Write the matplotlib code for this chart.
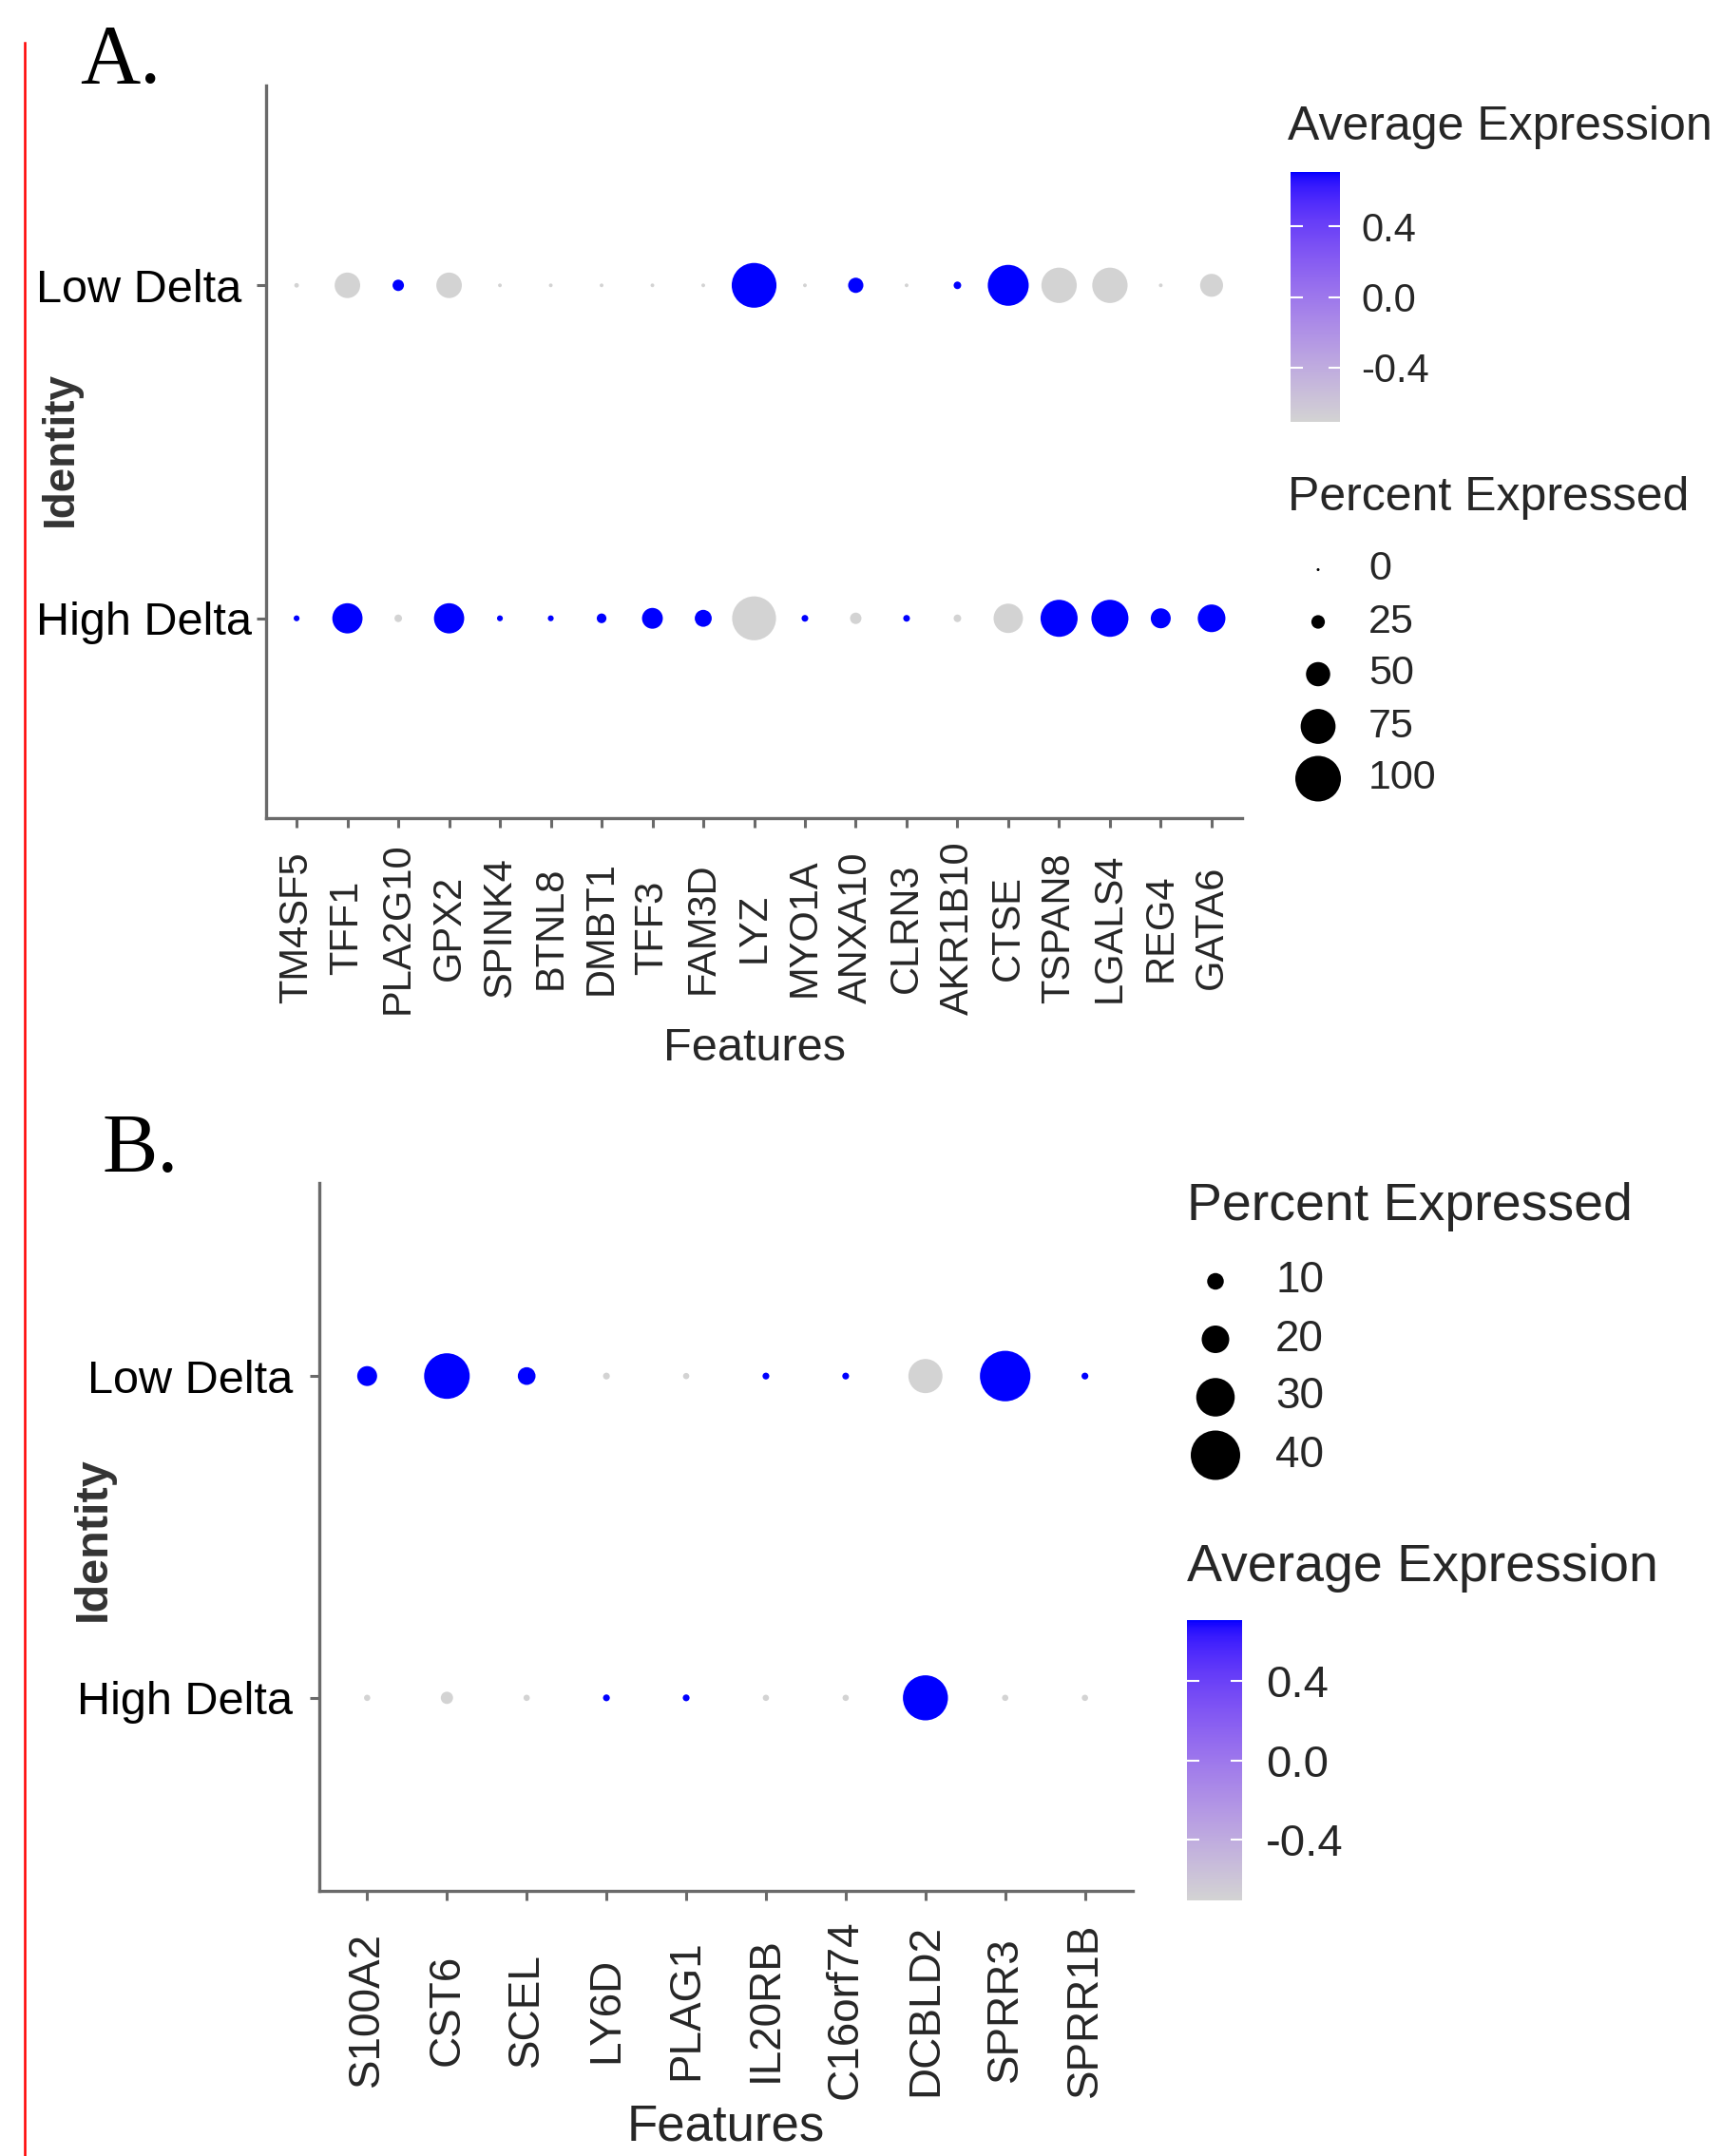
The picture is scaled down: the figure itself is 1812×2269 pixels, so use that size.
import numpy as np
import matplotlib
matplotlib.use("Agg")
import matplotlib.pyplot as plt
from matplotlib.colors import ListedColormap, Normalize
from matplotlib.cm import ScalarMappable
from matplotlib.lines import Line2D

plt.rcParams['font.family'] = ['Liberation Sans', 'DejaVu Sans']

# ---- data ----
identities = ['High Delta', 'Low Delta']   # bottom -> top

genes_a = ['TM4SF5', 'TFF1', 'PLA2G10', 'GPX2', 'SPINK4', 'BTNL8', 'DMBT1', 'TFF3',
           'FAM3D', 'LYZ', 'MYO1A', 'ANXA10', 'CLRN3', 'AKR1B10', 'CTSE', 'TSPAN8',
           'LGALS4', 'REG4', 'GATA6']
pct_low_a = [4, 53, 20, 53, 2, 2, 2, 2, 2, 98, 2, 29, 2, 11, 89, 76, 76, 2, 47]
pct_high_a = [7, 64, 11, 64, 7, 7, 16, 42, 33, 96, 9, 20, 9, 11, 62, 80, 80, 40, 58]
avg_low_a = [-0.71, -0.71, 0.71, -0.71, -0.71, -0.71, -0.71, -0.71, -0.71, 0.71,
             -0.71, 0.71, -0.71, 0.71, 0.71, -0.71, -0.71, -0.71, -0.71]
avg_high_a = [-v for v in avg_low_a]
size_breaks_a = [0, 25, 50, 75, 100]

genes_b = ['S100A2', 'CST6', 'SCEL', 'LY6D', 'PLAG1', 'IL20RB', 'C16orf74', 'DCBLD2',
           'SPRR3', 'SPRR1B']
pct_low_b = [13, 36.5, 11, 1, 0.5, 1, 1, 26, 41, 1]
pct_high_b = [0.5, 6, 0.5, 1, 1, 0.5, 0.5, 36, 0.5, 0.5]
avg_low_b = [0.71, 0.71, 0.71, -0.71, -0.71, 0.71, 0.71, -0.71, 0.71, 0.71]
avg_high_b = [-v for v in avg_low_b]
size_breaks_b = [10, 20, 30, 40]

color_ticks = [-0.4, 0.0, 0.4]

# ---- figure setup ----
W, H, DPI = 1812, 2269, 100
fig = plt.figure(figsize=(W / DPI, H / DPI), dpi=DPI)


def box(x0, y0, x1, y1):
    # pixel box (top-left origin) -> figure fraction rect
    return [x0 / W, 1 - y1 / H, (x1 - x0) / W, (y1 - y0) / H]


# lightgrey -> blue ramp interpolated in CIELAB, like ggplot's gradient
def srgb_to_lab(rgb):
    c = np.asarray(rgb, float)
    lin = np.where(c <= 0.04045, c / 12.92, ((c + 0.055) / 1.055) ** 2.4)
    m = np.array([[0.4124, 0.3576, 0.1805], [0.2126, 0.7152, 0.0722], [0.0193, 0.1192, 0.9505]])
    xyz = m @ lin / np.array([0.95047, 1.0, 1.08883])
    d = 6 / 29
    f = np.where(xyz > d ** 3, np.cbrt(xyz), xyz / (3 * d * d) + 4 / 29)
    return np.array([116 * f[1] - 16, 500 * (f[0] - f[1]), 200 * (f[1] - f[2])])


def lab_to_srgb(lab):
    L, a, b = lab
    fy = (L + 16) / 116
    f = np.array([fy + a / 500, fy, fy - b / 200])
    d = 6 / 29
    xyz = np.where(f > d, f ** 3, 3 * d * d * (f - 4 / 29)) * np.array([0.95047, 1.0, 1.08883])
    minv = np.array([[3.2406, -1.5372, -0.4986], [-0.9689, 1.8758, 0.0415], [0.0557, -0.2040, 1.0570]])
    lin = np.clip(minv @ xyz, 0, 1)
    return np.where(lin <= 0.0031308, 12.92 * lin, 1.055 * lin ** (1 / 2.4) - 0.055)


lab_lo = srgb_to_lab([211 / 255, 211 / 255, 211 / 255])
lab_hi = srgb_to_lab([0, 0, 1.0])
ramp = [np.clip(lab_to_srgb(lab_lo + t * (lab_hi - lab_lo)), 0, 1) for t in np.linspace(0, 1, 256)]
cmap = ListedColormap(ramp)

AXIS_GREY = '#6a6a6a'
TEXT = '#262626'


def size_pts(pct, d0, k):
    # diameter in px grows linearly with percent -> marker area in pt^2
    d_px = d0 + k * np.asarray(pct, float)
    return (d_px * 72 / DPI) ** 2


def dot_panel(rect, genes, pct_low, pct_high, avg_low, avg_high, d0, k,
              xt_size, yt_size, xt_pad):
    ax = fig.add_axes(rect)
    allv = np.concatenate([avg_low, avg_high])
    norm = Normalize(allv.min(), allv.max())
    x = np.arange(1, len(genes) + 1)
    for yi, pct, avg in [(1, pct_high, avg_high), (2, pct_low, avg_low)]:
        ax.scatter(x, np.full(len(x), yi), s=size_pts(pct, d0, k), c=avg,
                   cmap=cmap, norm=norm, linewidths=0, zorder=3)
    ax.set_xlim(0.4, len(genes) + 0.6)
    ax.set_ylim(0.4, 2.6)
    ax.set_xticks(x)
    ax.set_xticklabels(genes, rotation=90, fontsize=xt_size, color=TEXT,
                       va='center', ha='center')
    ax.set_yticks([1, 2])
    ax.set_yticklabels(identities, fontsize=yt_size, color='black')
    for side in ['top', 'right']:
        ax.spines[side].set_visible(False)
    for side in ['left', 'bottom']:
        ax.spines[side].set_color(AXIS_GREY)
        ax.spines[side].set_linewidth(2.4)
    ax.tick_params(axis='both', length=7, width=2.2, color=AXIS_GREY)
    ax.tick_params(axis='x', pad=xt_pad)
    return ax, norm


# ---- panel A ----
axA, normA = dot_panel(box(280, 90, 1307, 861), genes_a, pct_low_a, pct_high_a,
                       avg_low_a, avg_high_a, 3, 0.45, 30, 35, 76)
axA.tick_params(axis='y', pad=167)
for t in axA.get_yticklabels():
    t.set_horizontalalignment('left')
axA.set_xlabel('Features', fontsize=35, color=TEXT, va='center')
axA.xaxis.set_label_coords(0.5, -0.315)
axA.set_ylabel('Identity', fontsize=33, fontweight='bold', color='#333333', va='center')
axA.yaxis.set_label_coords(-0.21, 0.5045)

# ---- panel B ----
axB, normB = dot_panel(box(336, 1245, 1192, 1990), genes_b, pct_low_b, pct_high_b,
                       avg_low_b, avg_high_b, 6, 1.15, 33, 35, 83)
axB.tick_params(axis='y', pad=13)
axB.set_xlabel('Features', fontsize=38, color=TEXT, va='center')
axB.xaxis.set_label_coords(0.5, -0.334)
axB.set_ylabel('Identity', fontsize=35, fontweight='bold', color='#333333', va='center')
axB.yaxis.set_label_coords(-0.278, 0.497)


# ---- legends ----
def colour_legend(rect, norm, title, title_xy, fs_title, fs_lab, lab_pad):
    cax = fig.add_axes(rect)
    cb = fig.colorbar(ScalarMappable(norm=norm, cmap=cmap), cax=cax)
    cb.outline.set_visible(False)
    cb.set_ticks(color_ticks)
    cax.set_yticklabels([f'{v:.1f}' for v in color_ticks], fontsize=fs_lab, color=TEXT)
    cax.tick_params(axis='y', direction='in', left=True, right=True, length=9,
                    width=1.5, color='white', pad=lab_pad)
    fig.text(title_xy[0] / W, 1 - title_xy[1] / H, title, fontsize=fs_title,
             color=TEXT, va='center', ha='left')


def size_legend(rect, breaks, d0, k, title, title_xy, fs_title, fs_lab, dot_x, lab_x):
    lax = fig.add_axes(rect)
    lax.set_axis_off()
    n = len(breaks)
    lax.set_xlim(0, rect[2] * W)
    lax.set_ylim(n - 0.5, -0.5)
    rows = np.arange(n)
    lax.scatter(np.full(n, dot_x), rows, s=size_pts(breaks, d0, k), c='black',
                linewidths=0, clip_on=False)
    for r, b in zip(rows, breaks):
        lax.text(lab_x, r, str(b), fontsize=fs_lab, color=TEXT, va='center', ha='left')
    fig.text(title_xy[0] / W, 1 - title_xy[1] / H, title, fontsize=fs_title,
             color=TEXT, va='center', ha='left')


colour_legend(box(1358, 181, 1410, 444), normA, 'Average Expression', (1355, 134), 36, 30, 16)
size_legend(box(1356, 572, 1700, 847), size_breaks_a, 3, 0.45, 'Percent Expressed',
            (1355, 524), 36, 31, 31, 84)

size_legend(box(1249, 1318, 1600, 1562), size_breaks_b, 6, 1.15, 'Percent Expressed',
            (1249, 1270), 40, 33, 30, 93)
colour_legend(box(1249, 1705, 1307, 2000), normB, 'Average Expression', (1249, 1650), 40, 34, 18)

# ---- panel letters and red margin line ----
fig.text(84 / W, 1 - 87 / H, 'A.', fontsize=63, family='Liberation Serif', va='baseline')
fig.text(108 / W, 1 - 1233 / H, 'B.', fontsize=63, family='Liberation Serif', va='baseline')
fig.add_artist(Line2D([26 / W, 26 / W], [0, 1 - 45 / H], color='red', lw=1.8))

fig.savefig('out.png', dpi=DPI)
